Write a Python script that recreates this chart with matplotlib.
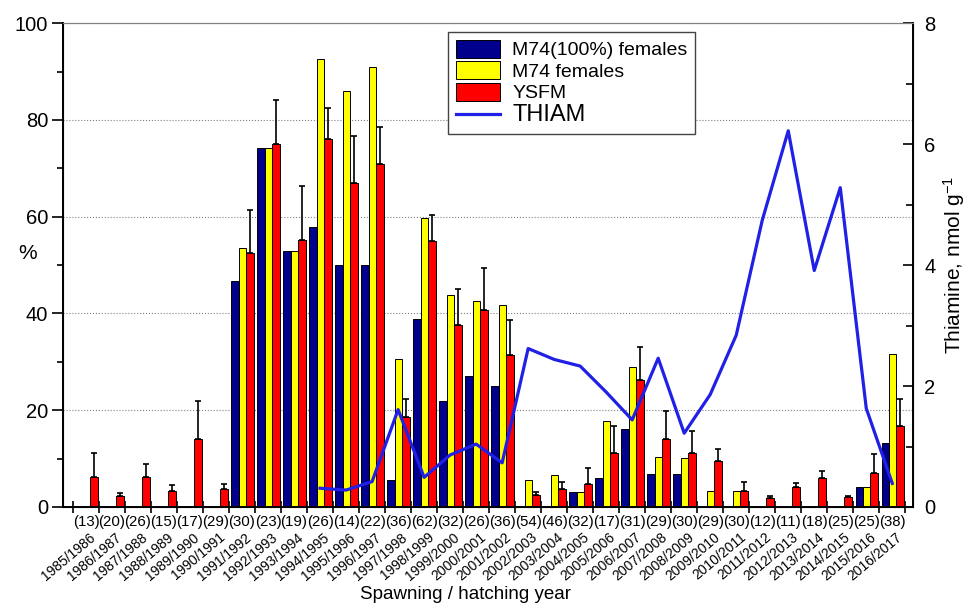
import numpy as np
import matplotlib
matplotlib.use("Agg")
import matplotlib.pyplot as plt
from matplotlib.transforms import blended_transform_factory

plt.rcParams.update({'font.family': ['Liberation Sans', 'DejaVu Sans'],
                     'mathtext.default': 'regular',
                     'xtick.labelsize': 14,
                     'ytick.labelsize': 14.5})

years = ["1985/1986", "1986/1987", "1987/1988", "1988/1989", "1989/1990",
         "1990/1991", "1991/1992", "1992/1993", "1993/1994", "1994/1995",
         "1995/1996", "1996/1997", "1997/1998", "1998/1999", "1999/2000",
         "2000/2001", "2001/2002", "2002/2003", "2003/2004", "2004/2005",
         "2005/2006", "2006/2007", "2007/2008", "2008/2009", "2009/2010",
         "2010/2011", "2011/2012", "2012/2013", "2013/2014", "2014/2015",
         "2015/2016", "2016/2017"]
n_fish = [13, 20, 26, 15, 17, 29, 30, 23, 19, 26, 14, 22, 36, 62, 32, 26,
          36, 54, 46, 32, 17, 31, 29, 30, 29, 30, 12, 11, 18, 25, 25, 38]

nan = np.nan
m74_100 = [nan, nan, nan, nan, nan, nan, 46.8, 74.1, 52.9, 57.8, 50.1, 50.1,
           5.6, 38.8, 22.0, 27.0, 25.0, nan, nan, 3.2, 5.9, 16.1, 6.9, 6.8,
           nan, nan, nan, nan, nan, nan, 4.1, 13.2]
m74 = [nan, nan, nan, nan, nan, nan, 53.5, 74.1, 52.9, 92.5, 85.9, 91.0,
       30.6, 59.8, 43.9, 42.5, 41.8, 5.6, 6.6, 3.2, 17.7, 29.0, 10.3, 10.1,
       3.4, 3.3, nan, nan, nan, nan, 4.1, 31.6]
ysfm = [6.3, 2.3, 6.1, 3.4, 14.0, 3.7, 52.5, 75.1, 55.1, 76.0, 66.9, 70.8,
        18.7, 54.9, 37.7, 40.7, 31.5, 2.4, 3.7, 4.8, 11.1, 26.3, 14.1, 11.1,
        9.6, 3.3, 1.8, 4.1, 5.9, 2.0, 7.0, 16.8]
ysfm_top = [11.2, 2.8, 8.9, 4.5, 22.0, 4.7, 61.3, 84.2, 66.4, 82.5, 76.7, 78.5,
            22.4, 60.4, 45.1, 49.3, 38.7, 3.0, 5.1, 8.0, 16.8, 33.1, 19.9, 15.7,
            11.9, 5.1, 2.3, 5.0, 7.4, 2.3, 11.0, 22.3]

# thiamine, from 1994/1995 on
thiam_start = 9
thiam = [0.31, 0.28, 0.42, 1.61, 0.49, 0.86, 1.04, 0.73, 2.62, 2.44, 2.33,
         1.90, 1.44, 2.46, 1.22, 1.86, 2.84, 4.74, 6.22, 3.91, 5.28, 1.63, 0.39]

x = np.arange(len(years))
w = 0.285
ysfm_err = np.array(ysfm_top) - np.array(ysfm)

fig, ax = plt.subplots(figsize=(9.75, 6.09), dpi=100)
fig.subplots_adjust(left=0.065, right=0.9365, top=0.962, bottom=0.1675)

ax.bar(x - w + 0.015, m74_100, w, color="#00008c", edgecolor="black",
       linewidth=0.7, label="M74(100%) females", zorder=2)
ax.bar(x + 0.015, m74, w, color="#ffff00", edgecolor="black",
       linewidth=0.7, label="M74 females", zorder=2)
ax.bar(x + w + 0.015, ysfm, w, color="#ff0000", edgecolor="black",
       linewidth=0.7, label="YSFM", zorder=2)
ax.errorbar(x + w + 0.015, ysfm, yerr=[np.zeros(len(x)), ysfm_err], fmt="none",
            ecolor="black", elinewidth=1.2, capsize=2.2, capthick=1.2, zorder=3)

ax.set_xlim(-0.87, 31.8)
ax.set_ylim(0, 100)
ax.set_yticks(np.arange(0, 101, 20))
ax.set_yticks(np.arange(10, 100, 20), minor=True)
ax.tick_params(axis="y", which="major", direction="out", length=8, width=1.2, pad=3)
ax.tick_params(axis="y", which="minor", direction="out", length=4, width=1.2)
ax.yaxis.grid(True, which="major", linestyle=":", color="gray", linewidth=0.8)
ax.set_axisbelow(True)

ax.set_xticks(x)
ax.set_xticklabels(["(%d)" % n for n in n_fish], fontsize=10.8)
ax.set_xticks(np.arange(-0.5, 32, 1), minor=True)
ax.tick_params(axis="x", which="major", length=0, pad=6)
ax.tick_params(axis="x", which="minor", direction="inout", length=8, width=1.2)

trans = blended_transform_factory(ax.transData, ax.transAxes)
for i, yr in enumerate(years):
    ax.text(i + 0.12, -0.048, yr, rotation=40, ha="right", va="top",
            rotation_mode="anchor", fontsize=10, transform=trans)

ax.set_ylabel("%", rotation=0, fontsize=15, labelpad=8)
ax.yaxis.set_label_coords(-0.042, 0.505)
fig.text(465 / 975, 0.024, "Spawning / hatching year", ha="center",
         va="center", fontsize=13.5)

for s in ["left", "bottom"]:
    ax.spines[s].set_linewidth(1.4)
ax.spines["top"].set_color("gray")

ax2 = ax.twinx()
ax2.plot(x[thiam_start:], thiam, color="#2020e6", linewidth=2.3, label="THIAM",
         zorder=4)
ax2.set_ylim(0, 8)
ax2.set_yticks([0, 2, 4, 6, 8])
ax2.set_yticks([1, 3, 5, 7], minor=True)
ax2.tick_params(axis="y", which="major", direction="in", length=7, width=1.2, pad=8)
ax2.tick_params(axis="y", which="minor", direction="in", length=5, width=1.2)
ax2.set_ylabel("Thiamine, nmol g$^{-1}$", fontsize=15, labelpad=4)
ax2.spines["right"].set_linewidth(1.4)
ax2.spines["top"].set_color("gray")

h1, l1 = ax.get_legend_handles_labels()
h2, l2 = ax2.get_legend_handles_labels()
leg = ax2.legend(h1 + h2, l1 + l2, loc="upper left", bbox_to_anchor=(0.4526, 0.982),
                 borderaxespad=0, fontsize=14, fancybox=False, framealpha=1,
                 edgecolor="#444444", handlelength=2.3, handleheight=1.05,
                 labelspacing=0.1, handletextpad=0.6, borderpad=0.4)
leg.get_frame().set_linewidth(1.0)
leg.get_texts()[3].set_fontsize(17)

plt.savefig("out.png", dpi=100)
